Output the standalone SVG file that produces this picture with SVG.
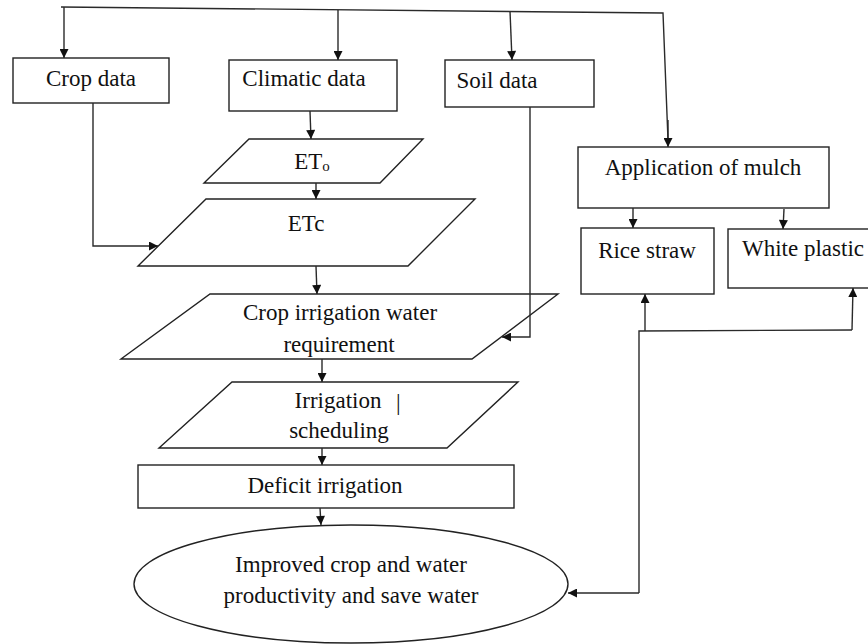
<svg xmlns="http://www.w3.org/2000/svg" width="868" height="644" viewBox="0 0 868 644">
<defs>
<marker id="ah" viewBox="0 0 10 10" refX="10" refY="5" markerWidth="10" markerHeight="9" markerUnits="userSpaceOnUse" orient="auto">
<path d="M0,0 L10,5 L0,10 z" fill="#111"/>
</marker>
<style>
.box{fill:#fff;stroke:#222;stroke-width:1.4}
.ln{fill:none;stroke:#2a2a2a;stroke-width:1.4}
.arr{fill:none;stroke:#2a2a2a;stroke-width:1.4;marker-end:url(#ah)}
text{font-family:"Liberation Serif","Times New Roman",serif;font-size:23px;fill:#111}
.c{text-anchor:middle}
</style>
</defs>
<rect width="868" height="644" fill="#fff"/>

<g id="crop-data"><rect class="box" x="13" y="58" width="156" height="45"/><text class="c" x="91" y="86">Crop data</text></g>
<g id="climatic-data"><rect class="box" x="229" y="60" width="168" height="51"/><text class="c" x="304" y="86">Climatic data</text></g>
<g id="soil-data"><rect class="box" x="445" y="60" width="149" height="47"/><text class="c" x="497" y="88">Soil data</text></g>
<g id="eto"><polygon class="box" points="249,139 423,139 380,183 204,183"/><text class="c" x="312" y="169">ET<tspan font-size="15" dy="2">o</tspan></text></g>
<g id="etc"><polygon class="box" points="206,199 475,199 408,266 138,266"/><text class="c" x="306" y="231">ETc</text></g>
<g id="ciwr"><polygon class="box" points="210,294 558,294 472,359 121,359"/><text class="c" x="340" y="320">Crop irrigation water</text><text class="c" x="339" y="352">requirement</text></g>
<g id="scheduling"><polygon class="box" points="232,382 518,382 447,448 159,448"/><text class="c" x="338" y="408">Irrigation</text><text x="396" y="410" fill="#111">|</text><text class="c" x="339" y="438">scheduling</text></g>
<g id="deficit"><rect class="box" x="138" y="465" width="376" height="43"/><text class="c" x="325" y="493">Deficit irrigation</text></g>
<g id="improved"><ellipse class="box" cx="351" cy="584" rx="217" ry="59"/><text class="c" x="351" y="572">Improved crop and water</text><text class="c" x="351" y="603">productivity and save water</text></g>
<g id="mulch"><rect class="box" x="578" y="147" width="251" height="61"/><text class="c" x="703" y="175">Application of mulch</text></g>
<g id="rice-straw"><rect class="box" x="581" y="228" width="133" height="66"/><text class="c" x="647" y="258">Rice straw</text></g>
<g id="white-plastic"><rect class="box" x="728" y="229" width="145" height="59"/><text x="742" y="256">White plastic</text></g>

<g id="connectors">
<path class="ln" d="M61,7 L663,13 L668,140"/>
<path class="arr" d="M668,120 L668,147"/>
<path class="arr" d="M64,7 L64,58"/>
<path class="arr" d="M338,10 L338,60"/>
<path class="arr" d="M510,11 L512,60"/>
<path class="arr" d="M93,103 L93,246 L158,246"/>
<path class="arr" d="M310,111 L311,139"/>
<path class="arr" d="M316,183 L316,199"/>
<path class="arr" d="M316,266 L317,294"/>
<path class="arr" d="M530,107 L530,337 L502,337"/>
<path class="arr" d="M322,359 L322,382"/>
<path class="arr" d="M322,448 L322,465"/>
<path class="arr" d="M320,508 L321,525"/>
<path class="arr" d="M633,208 L633,228"/>
<path class="arr" d="M784,209 L783,229"/>
<path class="ln" d="M639,593 L639,331 L852,330"/>
<path class="arr" d="M645,331 L645,294"/>
<path class="arr" d="M852,330 L853,288"/>
<path class="arr" d="M639,593 L568,593"/>
</g>
</svg>
